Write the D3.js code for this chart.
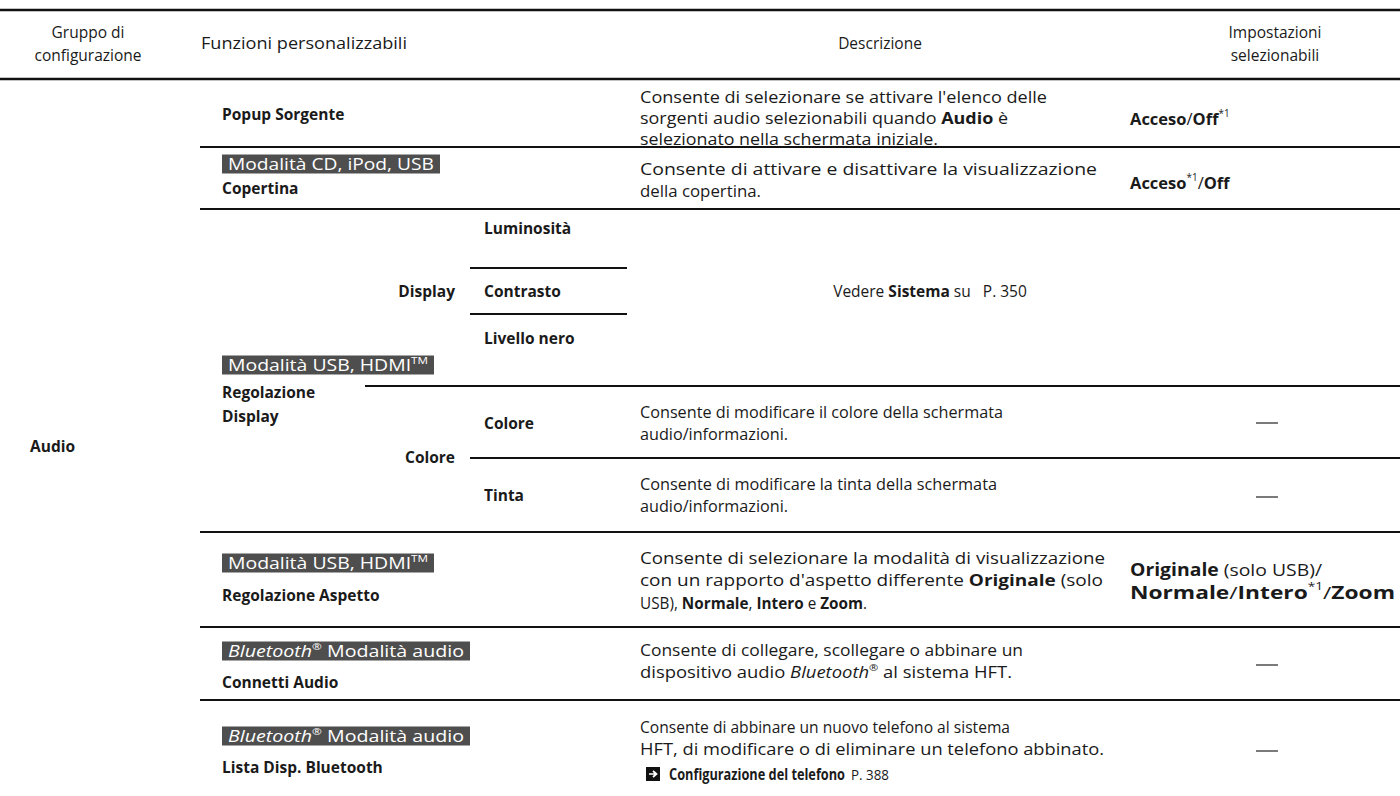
<!DOCTYPE html>
<html><head><meta charset="utf-8">
<script src="https://cdn.jsdelivr.net/npm/d3@7"></script>
<style>html,body{margin:0;padding:0;background:#fff;}svg{display:block;}text{font-family:"Open Sans","Noto Sans",sans-serif;fill:#1a1a1a;white-space:pre;}</style>
</head><body><svg id="c" width="1400" height="796"></svg>
<script>
// ---------- DATA ----------
const headers = ["Gruppo di\nconfigurazione", "Funzioni personalizzabili", "Descrizione", "Impostazioni\nselezionabili"];
const groupLabel = "Audio";
const features = ["Popup Sorgente", "Copertina", "Regolazione\nDisplay", "Regolazione Aspetto", "Connetti Audio", "Lista Disp. Bluetooth"];
const badges = [null, "Modalità CD, iPod, USB", "Modalità USB, HDMI^TM^", "Modalità USB, HDMI^TM^", "__Bluetooth__^®^ Modalità audio", "__Bluetooth__^®^ Modalità audio"];
const subGroups = ["Display", "Colore"];
const subItems = ["Luminosità", "Contrasto", "Livello nero", "Colore", "Tinta"];
const descriptions = [
  ["Consente di selezionare se attivare l'elenco delle", "sorgenti audio selezionabili quando **Audio** è", "selezionato nella schermata iniziale."],
  ["Consente di attivare e disattivare la visualizzazione", "della copertina."],
  ["Consente di modificare il colore della schermata", "audio/informazioni."],
  ["Consente di modificare la tinta della schermata", "audio/informazioni."],
  ["Consente di selezionare la modalità di visualizzazione", "con un rapporto d'aspetto differente **Originale** (solo", "USB), **Normale**, **Intero** e **Zoom**."],
  ["Consente di collegare, scollegare o abbinare un", "dispositivo audio __Bluetooth__^®^ al sistema HFT."],
  ["Consente di abbinare un nuovo telefono al sistema", "HFT, di modificare o di eliminare un telefono abbinato."]
];
const crossRef = ["**Configurazione del telefono**", "P. 388"];
const seeAlso = "Vedere **Sistema** su\u00a0\u00a0 P. 350";
const settings = [
  ["**Acceso**/**Off**^*1^"],
  ["**Acceso**^*1^/**Off**"],
  ["—"],
  ["—"],
  ["**Originale** (solo USB)/", "**Normale**/**Intero**^*1^/**Zoom**"],
  ["—"],
  ["—"]
];

// ---------- LAYOUT ----------
const W = 1400, H = 796;
const svg = d3.select("#c");
const x = {c1: 88, feat: 222, subR: 455, sub: 484, desc: 640, set: 1130, setC: 1267, c2: 304, c3: 880, c4: 1275};
const y = d3.scaleLinear().domain([0, H]).range([0, H]);
const FS = 15.5, DFS = 16, LH = 22;
// rendered widths of text lines (layout)
const descWidths = [[407, 368, 298], [457, 121], [363, 148], [357, 148], [465, 463, 227], [383, 372], [370, 464]];
const descSizes = [16, 16, 16, 16, 15.5, 16, 15.5];
const badgeWidths = [null, 206, 200, 200, 236, 236];
const headerWidths = [null, 206, null, null];

function parse(s) {
  const out = []; let b = false, i = false, sup = false, buf = "";
  const push = () => { if (buf) out.push({t: buf, b, i, sup}); buf = ""; };
  for (let k = 0; k < s.length; k++) {
    if (s.startsWith("**", k)) { push(); b = !b; k++; }
    else if (s.startsWith("__", k)) { push(); i = !i; k++; }
    else if (s[k] === "^") { push(); sup = !sup; }
    else buf += s[k];
  }
  push(); return out;
}
function rich(g, str, px, py, opts = {}) {
  const segs = parse(str);
  const size = opts.size || FS;
  const t = g.append("text").attr("x", px).attr("y", py)
    .attr("font-size", size)
    .attr("font-weight", opts.bold ? 700 : 400)
    .attr("text-anchor", opts.anchor || "start")
    .attr("dominant-baseline", "central");
  if (opts.fill) t.style("fill", opts.fill);
  let prevSup = false;
  segs.forEach(s => {
    const ts = t.append("tspan").text(s.t);
    if (s.b) ts.attr("font-weight", 700);
    if (s.i) ts.attr("font-style", "italic");
    if (s.sup) ts.attr("font-size", size * 0.6);
    if (s.sup && !prevSup) ts.attr("dy", -size * 0.33);
    if (!s.sup && prevSup) ts.attr("dy", size * 0.33);
    prevSup = s.sup;
  });
  if (opts.textLength) t.attr("textLength", opts.textLength).attr("lengthAdjust", "spacingAndGlyphs");
  return t;
}
function lines(g, arr, px, cy, opts = {}) {
  const lh = opts.lh || LH;
  const y0 = cy - (arr.length - 1) * lh / 2;
  arr.forEach((s, k) => rich(g, s, px, y0 + k * lh, Object.assign({}, opts, {textLength: opts.lengths ? opts.lengths[k] : null})));
}
function hline(x0, x1, yy, w = 2.2) {
  svg.append("line").attr("x1", x0).attr("x2", x1).attr("y1", y(yy)).attr("y2", y(yy))
    .attr("stroke", "#111").attr("stroke-width", w);
}
function badge(str, px, cy, len) {
  const g = svg.append("g");
  g.append("rect").attr("x", px).attr("y", cy - 9.5).attr("width", len + 12).attr("height", 19).attr("fill", "#4e4e4e");
  rich(g, str, px + 6, cy, {size: 15.5, fill: "#fff", textLength: len});
}
function dash(cy) {
  svg.append("line").attr("x1", x.setC - 11).attr("x2", x.setC + 11).attr("y1", y(cy)).attr("y2", y(cy)).attr("stroke", "#333").attr("stroke-width", 1.3);
}

// ---------- HEADER ----------
hline(0, W, 10, 2.5);
hline(0, W, 79, 2.5);
const hx = [x.c1, x.c2, x.c3, x.c4];
headers.forEach((h, k) => lines(svg, h.split("\n"), hx[k], 43, {anchor: "middle", lh: 23, size: 15.5, lengths: headerWidths[k] ? [headerWidths[k]] : null}));

// ---------- BODY ----------
rich(svg, groupLabel, 30, y(446), {bold: true});

// row separators
const seps = [[200, W, 147], [200, W, 209], [470, 627, 268], [470, 627, 314], [365, W, 386], [470, W, 458], [200, W, 532], [200, W, 627], [200, W, 700]];
seps.forEach(([x0, x1, yy]) => hline(x0, x1, yy, 2.2));

// features
rich(svg, features[0], x.feat, y(114), {bold: true});
badge(badges[1], x.feat, y(164), badgeWidths[1]); rich(svg, features[1], x.feat, y(188), {bold: true});
badge(badges[2], x.feat, y(365), badgeWidths[2]); lines(svg, features[2].split("\n"), x.feat, y(404), {bold: true, lh: 24});
badge(badges[3], x.feat, y(563), badgeWidths[3]); rich(svg, features[3], x.feat, y(595), {bold: true});
badge(badges[4], x.feat, y(651), badgeWidths[4]); rich(svg, features[4], x.feat, y(682), {bold: true});
badge(badges[5], x.feat, y(736), badgeWidths[5]); rich(svg, features[5], x.feat, y(767), {bold: true});

// sub groups / items
rich(svg, subGroups[0], x.subR, y(291), {bold: true, anchor: "end"});
rich(svg, subGroups[1], x.subR, y(457), {bold: true, anchor: "end"});
[228, 291, 338, 423, 495].forEach((yy, k) => rich(svg, subItems[k], x.sub, y(yy), {bold: true}));

// descriptions
const descY = [118, 180, 423, 495, 580, 661, 738];
const descLH = [21, 22.5, 22.5, 22.5, 22.5, 22.5, 22];
descriptions.forEach((d, k) => lines(svg, d, x.desc, y(descY[k]), {size: descSizes[k], lh: descLH[k], lengths: descWidths[k]}));
rich(svg, seeAlso, 930, y(291), {anchor: "middle", size: 15.5});
// cross reference with arrow icon
const ic = svg.append("g").attr("transform", `translate(${x.desc + 6},${y(774) - 7})`);
ic.append("rect").attr("width", 14).attr("height", 14).attr("fill", "#111");
ic.append("path").attr("d", "M3,7H10M7,4L10.5,7L7,10").attr("stroke", "#fff").attr("stroke-width", 1.7).attr("fill", "none");
rich(svg, crossRef[0], x.desc + 29, y(774), {size: 15.5, textLength: 176});
rich(svg, crossRef[1], x.desc + 211, y(774), {size: 15, textLength: 38});

// settings
const setY = [118, 182, 423, 497, 580, 665, 751];
settings.forEach((s, k) => {
  if (s[0] === "—") dash(setY[k]);
  else if (s.length === 1) rich(svg, s[0], x.set, y(setY[k]), {size: 16.5});
  else lines(svg, s, x.set, y(setY[k]), {size: 17, lh: 23, lengths: [192, 265]});
});
</script></body></html>
